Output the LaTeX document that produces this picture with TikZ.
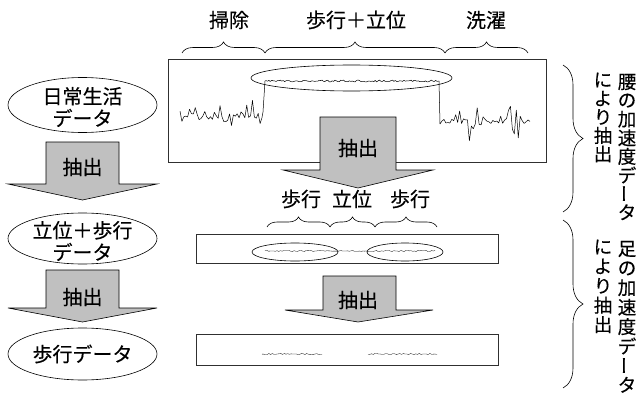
\documentclass[tikz,border=0pt]{standalone}
\usepackage{fontspec}
\setmainfont{Noto Sans CJK JP}[FakeBold=0.3]
\usetikzlibrary{decorations.pathreplacing,shapes.geometric}
\definecolor{arrgray}{HTML}{C0C0C0}
\definecolor{boxline}{HTML}{303030}
\newcommand\vbarchar{\rotatebox{90}{ー}}
\begin{document}
\begin{tikzpicture}[x=1pt,y=-1pt,
  lbl/.style={font=\fontsize{20}{22}\selectfont, inner sep=0pt, align=center},
  vch/.style={font=\fontsize{18.5}{22}\selectfont, inner sep=0pt},
  ell/.style={draw, ellipse, line width=0.6pt, inner sep=0pt},
  databox/.style={draw=boxline, line width=0.8pt, inner sep=0pt},
  arr/.style={draw, fill=arrgray, line width=0.6pt, line join=miter},
  brc/.style={decorate, decoration={brace, amplitude=#1}, line width=0.6pt},
  brc/.default=10pt,
  sig/.style={line width=0.5pt, line join=round},
  thinsig/.style={line width=0.3pt, line join=round}]
\useasboundingbox (0,0) rectangle (637,396);

% ---------- top labels and braces
\node[lbl] (tl1) at (229,20) {掃除};
\node[lbl] (tl2) at (356,20) {歩行＋立位};
\node[lbl] (tl3) at (486,20) {洗濯};
\coordinate (tb0) at (182,53);
\coordinate (tb1) at (265,53);
\coordinate (tb2) at (445,53);
\coordinate (tb3) at (528,53);
\draw[brc=11pt] (tb0) -- (tb1);
\draw[brc=11pt] (tb1) -- (tb2);
\draw[brc=11pt] (tb2) -- (tb3);

% ---------- top data box
\node[databox, minimum width=378pt, minimum height=103pt] (box1) at (357,110.5) {};
\pgfmathsetseed{5}
\draw[sig] plot[domain=180:262, samples=44] (\x,{116+3*rand+26*rand*rand*rand})
  -- (263,112) -- (265,81)
  -- plot[domain=266:437, samples=120] (\x,{81+0.9*rand})
  -- (439,81) -- (440,124)
  -- plot[domain=442:530, samples=46] (\x,{121+3*rand+26*rand*rand*rand});
\node[ell, minimum width=201pt, minimum height=26pt] (e1) at (351.5,78) {};

% ---------- middle arrow
\draw[arr] (320,117) -- (396,117) -- (396,170) -- (433,170) -- (358,188)
  -- (283,170) -- (320,170) -- cycle;
\node[lbl] (a3) at (358,148) {抽出};

% ---------- middle labels and braces
\node[lbl] (ml1) at (301,199) {歩行};
\node[lbl] (ml2) at (352,199) {立位};
\node[lbl] (ml3) at (410,199) {歩行};
\coordinate (mb0) at (267,227);
\coordinate (mb1) at (330,227);
\coordinate (mb2) at (375,227);
\coordinate (mb3) at (437,227);
\draw[brc] (mb0) -- (mb1);
\draw[brc] (mb1) -- (mb2);
\draw[brc] (mb2) -- (mb3);

% ---------- middle data box
\node[databox, minimum width=302pt, minimum height=29pt] (box2) at (347,248.5) {};
\draw[thinsig] plot[domain=265:435, samples=100] (\x,{251+0.6*rand});
\node[ell, minimum width=86pt, minimum height=18pt] (e2) at (295,252) {};
\node[ell, minimum width=76pt, minimum height=18pt] (e3) at (405,252) {};

% ---------- lower arrow
\draw[arr] (323,276) -- (396,276) -- (396,310) -- (433,310) -- (358,322)
  -- (285,310) -- (323,310) -- cycle;
\node[lbl] (a4) at (358,300) {抽出};

% ---------- bottom data box
\node[databox, minimum width=302pt, minimum height=31pt] (box3) at (347,349.5) {};
\draw[thinsig] plot[domain=262:322, samples=36] (\x,{354+0.6*rand});
\draw[thinsig] plot[domain=368:437, samples=40] (\x,{354+0.6*rand});

% ---------- left column
\node[ell, minimum width=149pt, minimum height=55pt] (L1) at (82.5,105) {};
\node[lbl] (L1t) at (82.5,107) {日常生活\\データ};
\draw[arr] (46,142) -- (119,142) -- (119,184) -- (157,184) -- (82.5,200)
  -- (8,184) -- (46,184) -- cycle;
\node[lbl] (a1) at (82.5,167) {抽出};
\node[ell, minimum width=149pt, minimum height=51pt] (L2) at (82.5,238.5) {};
\node[lbl] (L2t) at (82.5,241) {立位＋歩行\\データ};
\draw[arr] (46,270) -- (119,270) -- (119,308) -- (157,308) -- (82.5,322)
  -- (8,308) -- (46,308) -- cycle;
\node[lbl] (a2) at (82.5,297) {抽出};
\node[ell, minimum width=149pt, minimum height=52pt] (L3) at (82.5,354) {};
\node[lbl] (L3t) at (82.5,354) {歩行データ};

% ---------- right braces and vertical texts
\coordinate (rb0) at (563,65);
\coordinate (rb1) at (563,212);
\coordinate (rb2) at (563,220);
\coordinate (rb3) at (563,388);
\draw[brc=20pt] (rb0) -- (rb1);
\draw[brc=20pt] (rb2) -- (rb3);
\foreach \c [count=\i from 0] in {腰,の,加,速,度,デ,\vbarchar,タ}
  \node[vch] (wa\i) at (627,{82+18.6*\i}) {\c};
\foreach \c [count=\i from 0] in {に,よ,り,抽,出}
  \node[vch] (wb\i) at (603,{80+18.5*\i}) {\c};
\foreach \c [count=\i from 0] in {足,の,加,速,度,デ,\vbarchar,タ}
  \node[vch] (fa\i) at (627,{249+19.4*\i}) {\c};
\foreach \c [count=\i from 0] in {に,よ,り,抽,出}
  \node[vch] (fb\i) at (603,{247+19.4*\i}) {\c};
\end{tikzpicture}
\end{document}
